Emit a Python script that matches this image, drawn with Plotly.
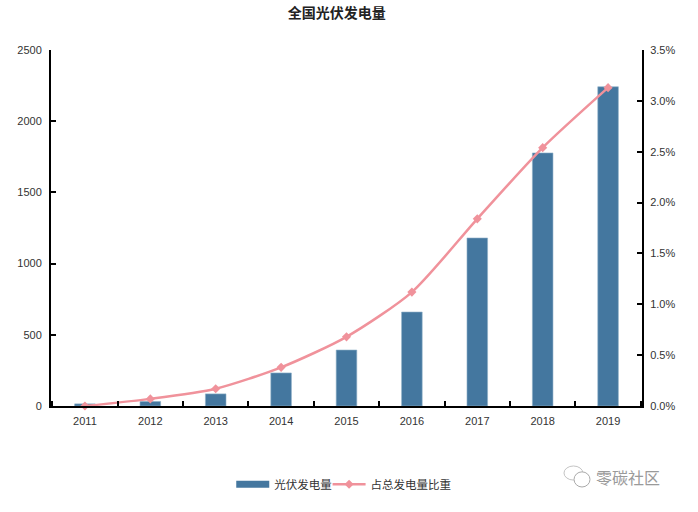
import plotly.graph_objects as go

years = ["2011", "2012", "2013", "2014", "2015", "2016", "2017", "2018", "2019"]
generation = [15, 32, 85, 232, 393, 660, 1180, 1777, 2242]
share = [0.0000, 0.0007, 0.0017, 0.0038, 0.0068, 0.0112, 0.0184, 0.0254, 0.0313]

BAR_COLOR = "#44779F"
LINE_COLOR = "#F0929B"
FONT = "Liberation Sans, Arial, Noto Sans CJK SC"

fig = go.Figure()

fig.add_trace(go.Bar(
    x=years, y=generation, name="光伏发电量", width=0.315,
    marker=dict(color=BAR_COLOR, line=dict(color="#8FB0C8", width=0.6)),
    showlegend=False,
))
# legend swatch only: plotly's own bar swatch is too small
fig.add_trace(go.Scatter(
    x=[None], y=[None], name="光伏发电量", mode="lines",
    line=dict(color=BAR_COLOR, width=7),
))
fig.add_trace(go.Scatter(
    x=years, y=share, name="占总发电量比重", mode="lines+markers", yaxis="y2", legend="legend2",
    line=dict(color=LINE_COLOR, width=2.5, shape="spline", smoothing=0.7),
    marker=dict(symbol="diamond", size=7, color=LINE_COLOR),
    cliponaxis=False,
))

axis_line = dict(showline=True, linecolor="#000000", linewidth=2, showgrid=False, zeroline=False,
                 ticks="inside", tickcolor="#000000", tickwidth=1.5, ticklen=5)
legend_style = dict(orientation="h", y=-0.22, yanchor="middle", itemwidth=33,
                    font=dict(size=11.5), itemclick=False, bgcolor="rgba(0,0,0,0)")

fig.update_layout(
    width=698, height=512,
    autosize=False,
    margin=dict(l=51, r=56, t=50, b=106),
    paper_bgcolor="#FFFFFF",
    plot_bgcolor="#FFFFFF",
    font=dict(family=FONT, size=11, color="#333333"),
    title=dict(text="<b>全国光伏发电量</b>", x=0.4825, xanchor="center", y=0.974, yanchor="middle",
               font=dict(size=14, color="#222222")),
    xaxis=dict(type="category", tickson="boundaries", ticklabelstandoff=4, **axis_line),
    yaxis=dict(range=[0, 2500], dtick=500, ticklabelstandoff=5, **axis_line),
    yaxis2=dict(range=[0, 0.035], dtick=0.005, tickformat=".1%", overlaying="y", side="right",
                ticklabelstandoff=4, **axis_line),
    legend=dict(x=0.305, xanchor="left", **legend_style),
    legend2=dict(x=0.468, xanchor="left", **legend_style),
    annotations=[dict(text="零碳社区", xref="paper", yref="paper", x=1.033, y=-0.205, xanchor="right",
                      yanchor="middle", showarrow=False, font=dict(size=16, color="#9A9A9A"))],
    shapes=[
        dict(type="circle", xref="paper", yref="paper", x0=0.868, x1=0.90, y0=-0.208, y1=-0.1685,
             line=dict(color="#C4C4C4", width=1), fillcolor="#FFFFFF"),
        dict(type="circle", xref="paper", yref="paper", x0=0.885, x1=0.912, y0=-0.2275, y1=-0.185,
             line=dict(color="#AAAAAA", width=1), fillcolor="#FFFFFF"),
    ],
)

# plotly's page keeps the browser's default body margin
fig.write_html("out.html", config={"displayModeBar": False},
               post_script="document.body.style.margin='0';")
